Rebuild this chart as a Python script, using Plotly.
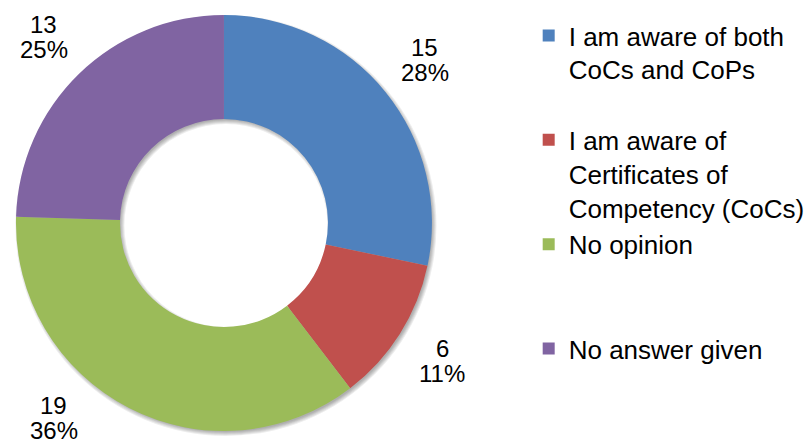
import numpy as np
import plotly.graph_objects as go

# Survey answers
categories = [
    "I am aware of both CoCs and CoPs",
    "I am aware of Certificates of Competency (CoCs)",
    "No opinion",
    "No answer given",
]
# Legend wording, wrapped; padded with blank lines so every entry takes the same slot
legend_text = [
    "I am aware of both<br>CoCs and CoPs<br>\u00a0",
    "I am aware of<br>Certificates of<br>Competency (CoCs)",
    "No opinion<br>\u00a0<br>\u00a0",
    "No answer given",
]
counts = [15, 6, 19, 13]
colors = ["#4F81BD", "#C0504D", "#9BBB59", "#8064A2"]

W, H = 810, 448
FONT = "Liberation Sans, Arial, sans-serif"

# Ring geometry in pixels
CX, CY, R = 224.5, 223.0, 208.5
HOLE = 0.5
R_IN = R * HOLE


def domain_for(cx, cy, r):
    return dict(x=[(cx - r) / W, (cx + r) / W],
                y=[1 - (cy + r) / H, 1 - (cy - r) / H])


fig = go.Figure()

# Soft drop shadow under the ring: a few faint grey rings, offset down-right,
# with slightly different spreads so the edge fades out
SHADOW_DX, SHADOW_DY = 2.0, 2.5
for s in (-1.5, -0.5, 0.5, 1.5, 2.5):
    ro = R + s
    ri = R_IN - s
    fig.add_trace(go.Pie(
        values=[1],
        labels=["shadow"],
        marker=dict(colors=["rgba(0,0,0,0.07)"], line=dict(width=0)),
        hole=ri / ro,
        sort=False,
        textinfo="none",
        hoverinfo="skip",
        showlegend=False,
        domain=domain_for(CX + SHADOW_DX, CY + SHADOW_DY, ro),
    ))

fig.add_trace(go.Pie(
    labels=legend_text,
    values=counts,
    customdata=categories,
    marker=dict(colors=colors, line=dict(width=0)),
    hole=HOLE,
    sort=False,
    direction="clockwise",
    rotation=0,
    textinfo="none",
    hovertemplate="%{customdata}: %{value} (%{percent})<extra></extra>",
    domain=domain_for(CX, CY, R),
))

# Data labels: value and share, set outside the ring at each slice's mid-angle
total = float(sum(counts))
frac = np.array(counts) / total
mid = (np.cumsum(frac) - frac / 2) * 2 * np.pi   # clockwise from 12 o'clock
LABEL_R = 259
BOX_W, BOX_H = 48, 58
LINE_GAP = 25


def centre(t):
    return CX + LABEL_R * np.sin(t), CY - LABEL_R * np.cos(t)


def fits(x, y):
    return (y - BOX_H / 2 >= 0 and y + BOX_H / 2 <= H
            and x - BOX_W / 2 >= 0 and x + BOX_W / 2 <= W)


annotations = []
for n, f, a in zip(counts, frac, mid):
    ang = a
    x, y = centre(ang)
    # slide a clipped label along the ring towards the horizontal until it fits
    step = np.sign(np.sin(ang) * np.cos(ang)) * np.radians(0.5)
    k = 0
    while not fits(x, y) and k < 200:
        ang += step
        x, y = centre(ang)
        k += 1
    for txt, yy in ((str(n), y - LINE_GAP / 2), (f"{round(100 * f)}%", y + LINE_GAP / 2)):
        annotations.append(dict(
            x=x / W, y=1 - yy / H, xref="paper", yref="paper",
            text=txt, showarrow=False, xanchor="center", yanchor="middle",
            font=dict(family=FONT, size=24, color="#000000"),
        ))

fig.update_layout(
    width=W, height=H,
    margin=dict(l=0, r=0, t=0, b=0),
    paper_bgcolor="white", plot_bgcolor="white",
    showlegend=True,
    legend=dict(
        x=530 / W, xanchor="left",
        y=1 - 12 / H, yanchor="top",
        valign="top",
        font=dict(family=FONT, size=26, color="#000000"),
        itemwidth=30,
        traceorder="normal",
        bgcolor="rgba(0,0,0,0)",
    ),
    annotations=annotations,
)

fig.write_html("out.html")
